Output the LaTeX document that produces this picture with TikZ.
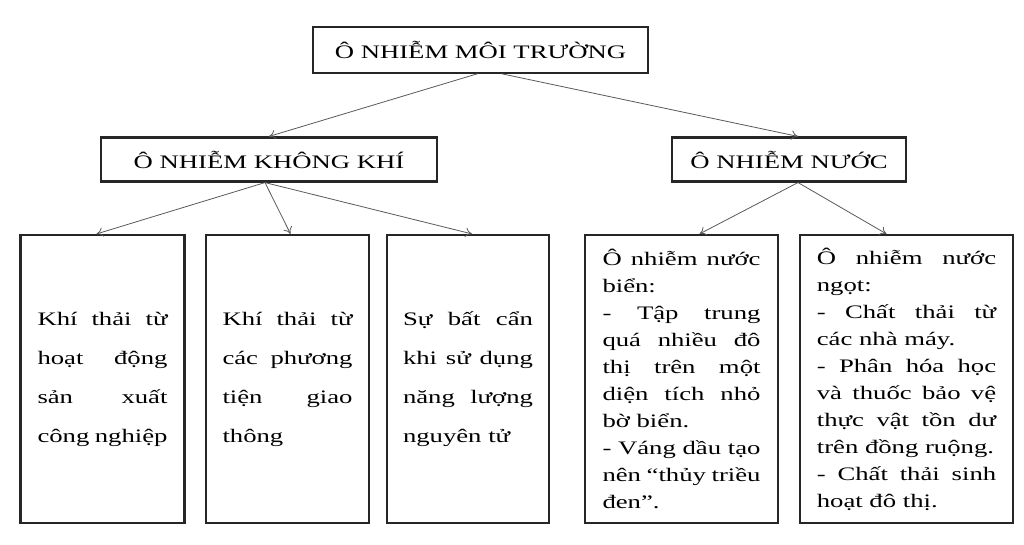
\documentclass[tikz,border=0pt]{standalone}
\usepackage{fontspec}
\setmainfont{Liberation Serif}[FakeStretch=1.4]
\usetikzlibrary{arrows.meta,positioning,calc}
\hbadness=10000
\hyphenpenalty=10000

\begin{document}
\begin{tikzpicture}[x=0.75pt, y=-0.75pt,
    head/.style={rectangle, draw=black!85, line width=1.6pt, minimum height=34pt, align=center, font=\fontsize{14.3pt}{17pt}\selectfont},
    leaf/.style={rectangle, draw=black!85, line width=1.6pt, minimum height=216pt, align=justify, font=\fontsize{14.3pt}{29.25pt}\selectfont},
    note/.style={leaf, font=\fontsize{14.3pt}{20.25pt}\selectfont},
    link/.style={draw=black!65, line width=0.6pt, -{To[length=5pt,width=7pt]}}
]
    \useasboundingbox (0,0) rectangle (1024,545);

    \node[head, minimum width=251pt] (top) at (480.5,50) {Ô NHIỄM MÔI TRƯỜNG};
    \node[head, minimum width=252pt, minimum height=33pt] (air) at (269,159.5) {Ô NHIỄM KHÔNG KHÍ};
    \node[head, minimum width=175.5pt, minimum height=33pt] (water) at (789,159.5) {Ô NHIỄM NƯỚC};

    \node[leaf, minimum width=123pt, text width=97.5pt] (k1) at (102.5,379)
        {Khí thải từ\linebreak hoạt động\linebreak sản xuất\linebreak công nghiệp};
    \node[leaf, minimum width=122pt, text width=97.5pt] (k2) at (287.5,379)
        {Khí thải từ\linebreak các phương\linebreak tiện giao\linebreak thông};
    \node[leaf, minimum width=122pt, text width=97.5pt] (k3) at (468,379)
        {Sự bất cẩn\linebreak khi sử dụng\linebreak năng lượng\linebreak nguyên tử};
    \node[note, minimum width=145pt, text width=118.5pt] (n1) at (681.5,379)
        {Ô nhiễm nước\linebreak biển:\\ - Tập trung\linebreak quá nhiều đô\linebreak thị trên một\linebreak diện tích nhỏ\linebreak bờ biển.\\ - Váng dầu tạo\linebreak nên “thủy triều\linebreak đen”.};
    \node[note, minimum width=160pt, text width=134.5pt] (n2) at (906.5,379)
        {Ô nhiễm nước\linebreak ngọt:\\ - Chất thải từ\linebreak các nhà máy.\\ - Phân hóa học\linebreak và thuốc bảo vệ\linebreak thực vật tồn dư\linebreak trên đồng ruộng.\\ - Chất thải sinh\linebreak hoạt đô thị.};

    \draw[link] ($(top.south)+(-3,0)$) -- (air.north);
    \draw[link] ($(top.south)+(21,0)$) -- ($(water.north)+(9,0)$);
    \draw[link] ($(air.south)+(-4,0)$) -- ($(k1.north)+(-6,0)$);
    \draw[link] ($(air.south)+(-4,0)$) -- ($(k2.north)+(3,0)$);
    \draw[link] ($(air.south)+(-4,0)$) -- ($(k3.north)+(4,0)$);
    \draw[link] ($(water.south)+(9,0)$) -- ($(n1.north)+(18,0)$);
    \draw[link] ($(water.south)+(9,0)$) -- ($(n2.north)+(-20,0)$);
\end{tikzpicture}
\end{document}
